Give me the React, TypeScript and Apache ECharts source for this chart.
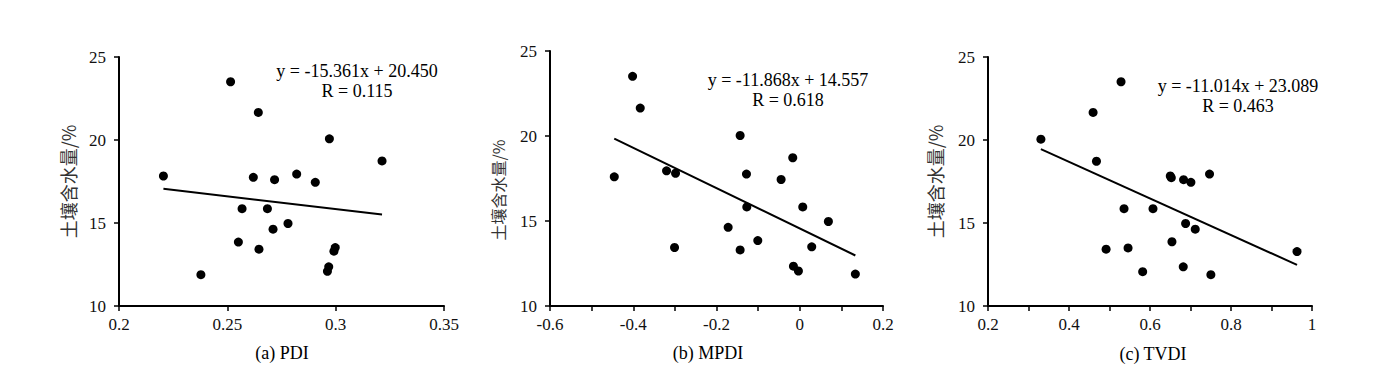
import React, { useEffect, useRef } from "react";
import * as echarts from "echarts";

// Soil moisture (%) vs PDI
const pdiPoints: number[][] = [
  [0.2205, 17.83], [0.2378, 11.89], [0.2515, 23.51], [0.2551, 13.85], [0.2568, 15.86],
  [0.262, 17.75], [0.2643, 21.66], [0.2646, 13.42], [0.2685, 15.86], [0.2711, 14.63],
  [0.2718, 17.61], [0.278, 14.97], [0.282, 17.95], [0.2906, 17.45], [0.2962, 12.09],
  [0.2968, 12.36], [0.2971, 20.07], [0.2992, 13.3], [0.2998, 13.52], [0.3214, 18.74],
];
const pdiTrend: number[][] = [[0.2205, 17.06], [0.3214, 15.51]];

// Soil moisture (%) vs MPDI
const mpdiPoints: number[][] = [
  [-0.4456, 17.6], [-0.4016, 23.51], [-0.3832, 21.64], [-0.32, 17.95], [-0.2984, 17.81],
  [-0.3008, 13.44], [-0.172, 14.63], [-0.1432, 20.03], [-0.1432, 13.3], [-0.128, 17.76],
  [-0.1272, 15.83], [-0.1008, 13.85], [-0.0448, 17.44], [-0.0168, 18.72], [-0.0152, 12.34],
  [-0.0032, 12.06], [0.0072, 15.83], [0.0288, 13.48], [0.0688, 14.97], [0.1336, 11.88],
];
const mpdiTrend: number[][] = [[-0.4456, 19.85], [0.1336, 12.97]];

// Soil moisture (%) vs TVDI
const tvdiPoints: number[][] = [
  [0.3306, 20.05], [0.4595, 21.66], [0.4678, 18.72], [0.4916, 13.42], [0.5285, 23.51],
  [0.5359, 15.86], [0.5458, 13.5], [0.5819, 12.07], [0.6074, 15.86], [0.6501, 17.83],
  [0.6526, 17.73], [0.6542, 13.87], [0.6821, 12.36], [0.6829, 17.61], [0.6879, 14.97],
  [0.701, 17.45], [0.7117, 14.63], [0.747, 17.95], [0.7503, 11.89], [0.963, 13.28],
];
const tvdiTrend: number[][] = [[0.3306, 19.45], [0.963, 12.48]];

const panelTitles = ["(a) PDI", "(b) MPDI", "(c) TVDI"];
const yTitle = "土壤含水量/%";
const equations = ["y = -15.361x + 20.450", "y = -11.868x + 14.557", "y = -11.014x + 23.089"];
const rValues = ["R = 0.115", "R = 0.618", "R = 0.463"];

const FONT = "'Liberation Serif', 'Times New Roman', serif";
const CJK = "'Noto Sans CJK SC', sans-serif";

export default function App() {
  const ref = useRef<HTMLDivElement>(null);
  useEffect(() => {
    if (!ref.current) return;
    const chart = echarts.init(ref.current, null, { renderer: "svg" });
    const grids = [
      { left: 119, top: 57, width: 325, height: 249 },
      { left: 550, top: 51, width: 333, height: 255 },
      { left: 988, top: 57, width: 324, height: 249 },
    ];
    const xRanges = [
      { min: 0.2, max: 0.35, interval: 0.05, minor: false },
      { min: -0.6, max: 0.2, interval: 0.2, minor: true },
      { min: 0.2, max: 1, interval: 0.2, minor: true },
    ];
    const axisLine = { show: true, onZero: false, lineStyle: { color: "#000", width: 2 } };
    const axisTick = { show: true, length: 5, lineStyle: { color: "#000", width: 1.5 } };
    const label = { color: "#111", fontFamily: FONT, fontSize: 17 };
    const xAxis = xRanges.map((r, i) => ({
      type: "value",
      gridIndex: i,
      min: r.min,
      max: r.max,
      interval: r.interval,
      axisLine,
      axisTick,
      minorTick: { show: r.minor, splitNumber: 2, length: 5, lineStyle: { color: "#000", width: 1.5 } },
      splitLine: { show: false },
      axisLabel: { ...label, margin: 10 },
    }));
    const yAxis = [0, 1, 2].map((i) => ({
      type: "value",
      gridIndex: i,
      min: 10,
      max: 25,
      interval: 5,
      axisLine,
      axisTick,
      splitLine: { show: false },
      axisLabel: { ...label, margin: 13 },
    }));
    const pts = [pdiPoints, mpdiPoints, tvdiPoints];
    const trends = [pdiTrend, mpdiTrend, tvdiTrend];
    const series: any[] = [];
    for (let i = 0; i < 3; i++) {
      series.push({
        type: "scatter",
        xAxisIndex: i,
        yAxisIndex: i,
        data: pts[i],
        symbolSize: 9,
        itemStyle: { color: "#000", opacity: 1 },
        z: 3,
      });
      series.push({
        type: "line",
        xAxisIndex: i,
        yAxisIndex: i,
        data: trends[i],
        symbol: "none",
        lineStyle: { color: "#000", width: 2 },
        z: 2,
      });
    }
    const eqPos = [
      [357, 71],
      [788, 80],
      [1238, 86],
    ];
    const xTitlePos = [[282, 353], [708, 353], [1153, 354]];
    const yTitlePos = [
      [68, 181.5, 18],
      [498, 190, 16],
      [935, 181.5, 18],
    ];
    const graphic: any[] = [];
    for (let i = 0; i < 3; i++) {
      graphic.push({
        type: "text",
        x: eqPos[i][0],
        y: eqPos[i][1],
        style: { text: equations[i], fill: "#000", font: `18px ${FONT}`, align: "center", verticalAlign: "middle" },
      });
      graphic.push({
        type: "text",
        x: eqPos[i][0],
        y: eqPos[i][1] + 20,
        style: { text: rValues[i], fill: "#000", font: `18px ${FONT}`, align: "center", verticalAlign: "middle" },
      });
      graphic.push({
        type: "text",
        x: xTitlePos[i][0],
        y: xTitlePos[i][1],
        style: { text: panelTitles[i], fill: "#000", font: `18px ${FONT}`, align: "center", verticalAlign: "middle" },
      });
      graphic.push({
        type: "text",
        x: yTitlePos[i][0],
        y: yTitlePos[i][1],
        rotation: Math.PI / 2,
        style: {
          text: yTitle,
          fill: "#333",
          font: `${yTitlePos[i][2]}px ${CJK}`,
          align: "center",
          verticalAlign: "middle",
        },
      });
    }
    chart.setOption({
      animation: false,
      backgroundColor: "#fff",
      grid: grids,
      xAxis,
      yAxis,
      series,
      graphic,
    });
    return () => chart.dispose();
  }, []);
  return (
    <div
      ref={ref}
      style={{ position: "fixed", left: 0, top: 0, width: 1376, height: 382, background: "#fff" }}
    />
  );
}
